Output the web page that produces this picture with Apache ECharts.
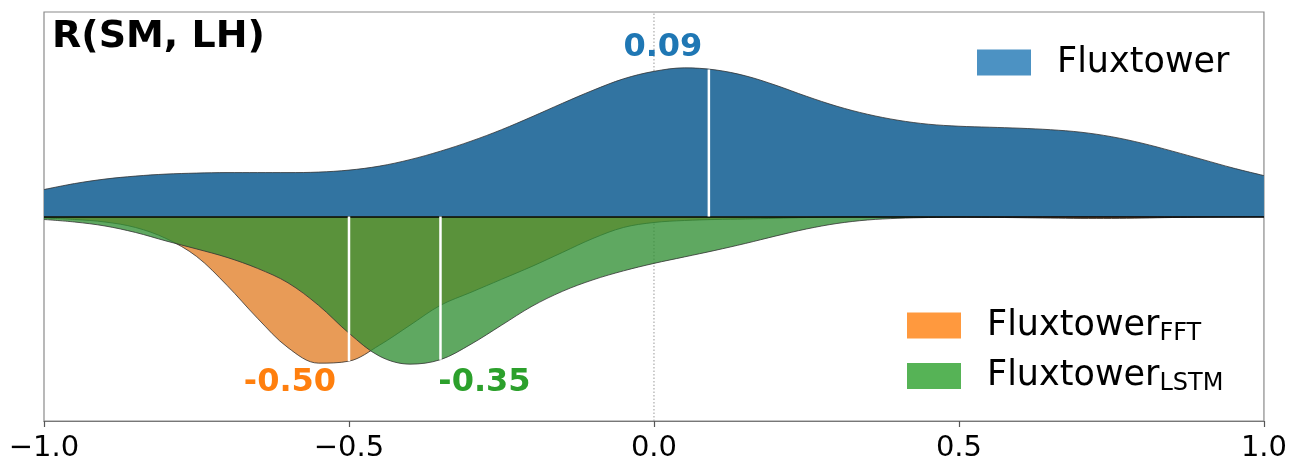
<!DOCTYPE html>
<html><head><meta charset="utf-8">
<script src="https://cdn.jsdelivr.net/npm/echarts@6/dist/echarts.min.js"></script>
<style>html,body{margin:0;padding:0;background:#fff}#c{width:1290px;height:464px}</style>
</head><body><div id="c"></div>
<script>
// x positions of the density samples
const xValues = [-1.00,-0.95,-0.90,-0.85,-0.80,-0.75,-0.70,-0.65,-0.60,-0.55,-0.50,-0.45,-0.40,-0.35,-0.30,-0.25,-0.20,-0.15,-0.10,-0.05,
  0.00,0.05,0.10,0.15,0.20,0.25,0.30,0.35,0.40,0.45,0.50,0.55,0.60,0.65,0.70,0.75,0.80,0.85,0.90,0.95,1.00];
// Fluxtower density (plotted upward)
const fluxtower = [0.27,0.33,0.375,0.405,0.425,0.435,0.44,0.44,0.44,0.445,0.465,0.505,0.57,0.655,0.755,0.87,1.00,1.135,1.265,1.38,
  1.455,1.49,1.47,1.41,1.315,1.205,1.105,1.025,0.965,0.925,0.905,0.895,0.885,0.87,0.845,0.80,0.735,0.655,0.57,0.485,0.41];
// Fluxtower_FFT density (plotted downward)
const fluxtowerFFT = [-0.015,-0.03,-0.055,-0.11,-0.22,-0.40,-0.69,-1.02,-1.315,-1.47,-1.45,-1.29,-1.09,-0.89,-0.76,-0.63,-0.50,-0.36,-0.22,-0.11,
  -0.06,-0.04,-0.03,-0.025,-0.018,-0.01,-0.005,-0.002,-0.002,-0.003,-0.005,-0.008,-0.012,-0.016,-0.02,-0.02,-0.016,-0.01,-0.006,-0.003,-0.001];
// Fluxtower_LSTM density (plotted downward)
const fluxtowerLSTM = [-0.03,-0.055,-0.095,-0.16,-0.245,-0.325,-0.41,-0.52,-0.665,-0.89,-1.17,-1.40,-1.48,-1.435,-1.28,-1.09,-0.90,-0.75,-0.635,-0.545,
  -0.47,-0.405,-0.34,-0.27,-0.195,-0.125,-0.07,-0.035,-0.018,-0.01,-0.005,-0.003,-0.002,-0.001,-0.001,-0.001,-0.001,-0.001,-0.001,-0.001,-0.001];
const medians = [0.09, -0.50, -0.35];
const medianLabels = ['0.09', '-0.50', '-0.35'];
const tickLabels = ['\u22121.0', '\u22120.5', '0.0', '0.5', '1.0'];
const seriesNames = ['Fluxtower', 'FluxtowerFFT', 'FluxtowerLSTM'];
const titleText = 'R(SM, LH)';

const FONT = 'DejaVu Sans';
const fillColors = ['#3274a1', '#e89b57', '#318f34'];
const legendColors = ['#4c92c3', '#ff993e', '#56b356'];
const labelColors = ['#1f77b4', '#ff7f0e', '#2ca02c'];
const labelOffsets = [[-46, -169], [-59, 166], [44, 166]];

function pairs(ys) { return xValues.map((x, i) => [x, ys[i]]); }
function interp(ys, x) {
  for (let i = 0; i < xValues.length - 1; i++) {
    if (x >= xValues[i] && x <= xValues[i + 1]) {
      const t = (x - xValues[i]) / (xValues[i + 1] - xValues[i]);
      return ys[i] + t * (ys[i + 1] - ys[i]);
    }
  }
  return 0;
}
const densities = [fluxtower, fluxtowerFFT, fluxtowerLSTM];

const chart = echarts.init(document.getElementById('c'), null, {renderer: 'canvas'});
const series = [];
// dotted zero reference line
series.push({
  type: 'line', name: 'zero', data: [[0, -2.05], [0, 2.05]], symbol: 'none', z: 1, silent: true,
  lineStyle: {color: '#999999', width: 1, type: [1.5, 2]}
});
// areas: FFT first, LSTM over it, Fluxtower on top
[1, 2, 0].forEach((k, order) => {
  const s = {
    type: 'line', name: seriesNames[k], data: pairs(densities[k]), smooth: 0.35, symbol: 'none',
    z: 2 + order,
    itemStyle: {color: legendColors[k]},
    lineStyle: {color: '#333333', width: 1, opacity: 0.8},
    areaStyle: {color: fillColors[k], opacity: k === 2 ? 0.775 : 1}
  };
  if (k === 0) {
    s.markLine = {silent: true, symbol: 'none', label: {show: false},
      lineStyle: {color: '#000', width: 1.5, type: 'solid'}, data: [{yAxis: 0}]};
  }
  series.push(s);
});
// median lines
medians.forEach((m, k) => {
  series.push({
    type: 'line', name: 'median' + k, data: [[m, 0], [m, interp(densities[k], m)]], symbol: 'none', z: 6, silent: true,
    lineStyle: {color: '#ffffff', width: 2.5}
  });
});
// median value labels
medians.forEach((m, k) => {
  series.push({
    type: 'scatter', name: 'label' + k, data: [[m, 0]], symbolSize: 0, z: 7, silent: true,
    itemStyle: {opacity: 1},
    label: {show: true, position: 'inside', formatter: medianLabels[k], offset: labelOffsets[k],
      color: labelColors[k], opacity: 1, fontFamily: FONT, fontWeight: 'bold', fontSize: 32}
  });
});

const rich = {
  m: {fontFamily: FONT, fontSize: 35, color: '#000', lineHeight: 40, verticalAlign: 'middle'},
  s: {fontFamily: FONT, fontSize: 24, color: '#000', lineHeight: 21, verticalAlign: 'bottom'}
};
function legendFmt(name) {
  if (name === 'FluxtowerFFT') return '{m|Fluxtower}{s|FFT}';
  if (name === 'FluxtowerLSTM') return '{m|Fluxtower}{s|LSTM}';
  return '{m|Fluxtower}';
}

chart.setOption({
  animation: false,
  backgroundColor: '#ffffff',
  title: {text: titleText, left: 52, top: 18, padding: 0,
    textStyle: {fontFamily: FONT, fontWeight: 'bold', fontSize: 38, color: '#000'}},
  grid: {left: 44, right: 26, top: 12, bottom: 43, show: true, borderColor: '#8a8a8a', borderWidth: 1.2, backgroundColor: 'transparent'},
  legend: [
    {orient: 'vertical', left: 977, top: 45, padding: 0, icon: 'rect', itemWidth: 54, itemHeight: 26, itemGap: 13,
      selectedMode: false, formatter: legendFmt,
      textStyle: {padding: [0, 0, 0, 21], rich: rich},
      data: [{name: seriesNames[0], itemStyle: {color: legendColors[0], borderWidth: 0}}]},
    {orient: 'vertical', left: 907, top: 308, padding: 0, icon: 'rect', itemWidth: 54, itemHeight: 26, itemGap: 13,
      selectedMode: false, formatter: legendFmt,
      textStyle: {padding: [0, 0, 0, 21], rich: rich},
      data: [{name: seriesNames[1], itemStyle: {color: legendColors[1], borderWidth: 0}},
             {name: seriesNames[2], itemStyle: {color: legendColors[2], borderWidth: 0}}]}
  ],
  xAxis: {
    type: 'value', min: -1, max: 1, interval: 0.5,
    axisLine: {show: true, onZero: false, lineStyle: {color: '#777', width: 1.2}},
    axisTick: {show: true, length: 6, lineStyle: {color: '#555', width: 1.2}},
    splitLine: {show: false},
    axisLabel: {fontFamily: FONT, fontSize: 29, color: '#000', margin: 13,
      formatter: v => tickLabels[Math.round((v + 1) / 0.5)]}
  },
  yAxis: {type: 'value', min: -2.05, max: 2.05, show: false, splitLine: {show: false}},
  series: series
});
</script></body></html>
